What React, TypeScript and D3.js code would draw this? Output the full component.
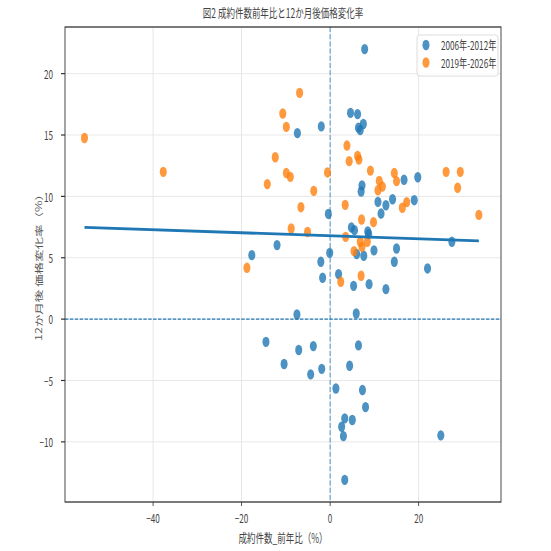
import { useEffect, useRef } from 'react'
import * as d3 from 'd3'

// values
const seriesNames = ['2006年-2012年', '2019年-2026年']
const seriesColors = ['#1f77b4', '#ff7f0e']

const earlyX = [7.8, 4.6, 6.2, 7.5, 6.4, 6.8, -2.0, -7.4, 7.2, 7.0, 16.7, 19.8, 10.8, 12.6, 14.1, 19.0, 11.5, 4.8, 5.5, 8.5, 8.7, 6.0, 7.6, 9.9, 15.0, 14.5, 27.5, 22.0, -0.1, 1.9, 5.3, 8.8, 12.6, -0.4, -12.0, -17.7, -2.1, -1.7, -7.5, 5.9, -14.5, -7.1, -3.8, 6.4, -10.4, -4.4, -1.9, 4.4, 1.3, 7.3, 8.0, 3.3, 5.0, 2.6, 3.0, 3.3, 25.0]
const earlyY = [22.0, 16.8, 16.7, 15.9, 15.6, 15.4, 15.7, 15.15, 10.9, 10.4, 11.35, 11.56, 9.55, 9.28, 9.77, 9.69, 8.6, 7.47, 7.25, 7.14, 6.92, 5.3, 5.16, 5.6, 5.75, 4.67, 6.3, 4.13, 5.4, 3.66, 2.71, 2.85, 2.44, 8.57, 6.03, 5.21, 4.67, 3.37, 0.38, 0.46, -1.85, -2.52, -2.2, -2.14, -3.66, -4.5, -4.05, -3.8, -5.65, -5.78, -7.17, -8.09, -8.22, -8.77, -9.53, -13.1, -9.47]

const recentX = [-55.5, -37.7, -6.9, -10.7, -9.9, 3.8, -12.4, 4.3, 6.2, 6.5, 9.1, -9.9, -9.0, -0.6, -14.2, -3.7, 11.1, 11.8, 10.8, 14.5, 15.0, 26.2, 29.4, 28.8, 33.6, 17.3, 16.3, 3.4, 7.1, 9.8, 3.5, 6.8, 8.4, 7.2, 5.4, 2.4, 7.0, -6.6, -8.8, -5.1, -18.8]
const recentY = [14.76, 12.0, 18.43, 16.75, 15.66, 14.14, 13.19, 12.87, 13.3, 13.0, 12.1, 11.9, 11.59, 11.95, 11.0, 10.45, 11.26, 10.8, 10.5, 11.9, 11.24, 12.0, 12.0, 10.7, 8.49, 9.53, 9.07, 9.31, 8.12, 7.9, 6.7, 6.3, 6.3, 5.89, 5.54, 3.04, 3.53, 9.12, 7.38, 7.1, 4.18]

// fitted line (all points)
const fitSlope = -0.0122
const fitIntercept = 6.79

const xTicks = [-40, -20, 0, 20]
const yTicks = [-10, -5, 0, 5, 10, 15, 20]
const xDomain = [-59.9, 38.6]
const yDomain = [-14.9, 23.8]

const titleText = '図2 成約件数前年比と12か月後価格変化率'
const xLabel = '成約件数_前年比（%）'
const yLabel = '12か月後 価格変化率（%）'

const FONT = '"Noto Sans CJK JP", "Noto Sans", sans-serif'
const SX = 0.68 // horizontal squash of the original figure
const H = 551
const W = 551 / SX

export default function App() {
  const ref = useRef<SVGSVGElement | null>(null)

  useEffect(() => {
    const svg = d3.select(ref.current)
    svg.selectAll('*').remove()

    const left = 65 / SX
    const right = 501 / SX
    const top = 27
    const bottom = 502

    const x = d3.scaleLinear().domain(xDomain).range([left, right])
    const y = d3.scaleLinear().domain(yDomain).range([bottom, top])

    svg.append('rect').attr('width', W).attr('height', H).attr('fill', '#fff')

    // grid
    const grid = svg.append('g')
    xTicks.forEach((t) => {
      grid.append('line')
        .attr('x1', x(t)).attr('x2', x(t))
        .attr('y1', top).attr('y2', bottom)
        .attr('stroke', '#e3e3e3').attr('stroke-width', 1.3)
    })
    yTicks.forEach((t) => {
      grid.append('line')
        .attr('x1', left).attr('x2', right)
        .attr('y1', y(t)).attr('y2', y(t))
        .attr('stroke', '#e3e3e3').attr('stroke-width', 1)
    })

    // reference lines at zero
    svg.append('line')
      .attr('x1', left).attr('x2', right)
      .attr('y1', y(0)).attr('y2', y(0))
      .attr('stroke', seriesColors[0]).attr('stroke-width', 1.2)
      .attr('stroke-dasharray', '5 2.2')
    svg.append('line')
      .attr('x1', x(0)).attr('x2', x(0))
      .attr('y1', top).attr('y2', bottom)
      .attr('stroke', seriesColors[0]).attr('stroke-width', 1.6)
      .attr('stroke-opacity', 0.7)
      .attr('stroke-dasharray', '5 2.2')

    // scatter
    const groups = [
      { xs: earlyX, ys: earlyY, color: seriesColors[0] },
      { xs: recentX, ys: recentY, color: seriesColors[1] },
    ]
    groups.forEach((s) => {
      const pts = s.xs.map((v, i) => ({ x: v, y: s.ys[i] }))
      svg.append('g')
        .selectAll('circle')
        .data(pts)
        .enter()
        .append('circle')
        .attr('cx', (d) => x(d.x))
        .attr('cy', (d) => y(d.y))
        .attr('r', 5.2)
        .attr('fill', s.color)
        .attr('fill-opacity', 0.8)
    })

    // regression line over the data range
    const allX = earlyX.concat(recentX)
    const xMin = d3.min(allX) ?? 0
    const xMax = d3.max(allX) ?? 0
    const fit = d3.line<number>()
      .x((d) => x(d))
      .y((d) => y(fitIntercept + fitSlope * d))
    svg.append('path')
      .datum([xMin, xMax])
      .attr('d', fit)
      .attr('fill', 'none')
      .attr('stroke', seriesColors[0])
      .attr('stroke-width', 2.8)

    // frame
    svg.append('rect')
      .attr('x', left).attr('y', top)
      .attr('width', right - left).attr('height', bottom - top)
      .attr('fill', 'none')
      .attr('stroke', '#333').attr('stroke-width', 1.3)

    // ticks
    const textColor = '#444'
    xTicks.forEach((t) => {
      svg.append('line')
        .attr('x1', x(t)).attr('x2', x(t))
        .attr('y1', bottom).attr('y2', bottom + 4)
        .attr('stroke', '#333').attr('stroke-width', 1.2)
      svg.append('text')
        .attr('x', x(t)).attr('y', 523)
        .attr('text-anchor', 'middle')
        .attr('fill', textColor)
        .style('font-family', FONT).style('font-size', '12px')
        .text(t < 0 ? `\u2212${Math.abs(t)}` : String(t))
    })
    yTicks.forEach((t) => {
      svg.append('line')
        .attr('x1', left - 4 / SX).attr('x2', left)
        .attr('y1', y(t)).attr('y2', y(t))
        .attr('stroke', '#333').attr('stroke-width', 1.2)
      svg.append('text')
        .attr('x', 53 / SX).attr('y', y(t))
        .attr('text-anchor', 'end')
        .attr('dominant-baseline', 'central')
        .attr('fill', textColor)
        .style('font-family', FONT).style('font-size', '12px')
        .text(t < 0 ? `\u2212${Math.abs(t)}` : String(t))
    })

    // titles
    svg.append('text')
      .attr('x', (left + right) / 2).attr('y', 18)
      .attr('text-anchor', 'middle')
      .attr('fill', textColor)
      .style('font-family', FONT).style('font-size', '12.5px')
      .text(titleText)
    svg.append('text')
      .attr('x', (left + right) / 2).attr('y', 543)
      .attr('text-anchor', 'middle')
      .attr('fill', textColor)
      .style('font-family', FONT).style('font-size', '12.5px')
      .text(xLabel)
    svg.append('text')
      .attr('transform', `translate(${38 / SX},${(top + bottom) / 2}) rotate(-90)`)
      .attr('text-anchor', 'middle')
      .attr('dominant-baseline', 'central')
      .attr('fill', '#555')
      .style('font-family', FONT).style('font-size', '12.5px')
      .text(yLabel)

    // legend
    const lg = svg.append('g')
    lg.append('rect')
      .attr('x', 417 / SX).attr('y', 35)
      .attr('width', 81 / SX).attr('height', 41)
      .attr('rx', 3)
      .attr('fill', '#fff').attr('fill-opacity', 0.8)
      .attr('stroke', '#d6d6d6').attr('stroke-width', 1)
    seriesNames.forEach((name, i) => {
      const cy = 45 + i * 17.5
      lg.append('circle')
        .attr('cx', 426 / SX).attr('cy', cy)
        .attr('r', 5.2)
        .attr('fill', seriesColors[i]).attr('fill-opacity', 0.8)
      lg.append('text')
        .attr('x', 441 / SX).attr('y', cy)
        .attr('dominant-baseline', 'central')
        .attr('fill', textColor)
        .style('font-family', FONT).style('font-size', '12px')
        .text(name)
    })
  }, [])

  return (
    <svg
      ref={ref}
      width={551}
      height={551}
      viewBox={`0 0 ${W} ${H}`}
      preserveAspectRatio="none"
      style={{ position: 'absolute', left: 0, top: 0 }}
    />
  )
}
